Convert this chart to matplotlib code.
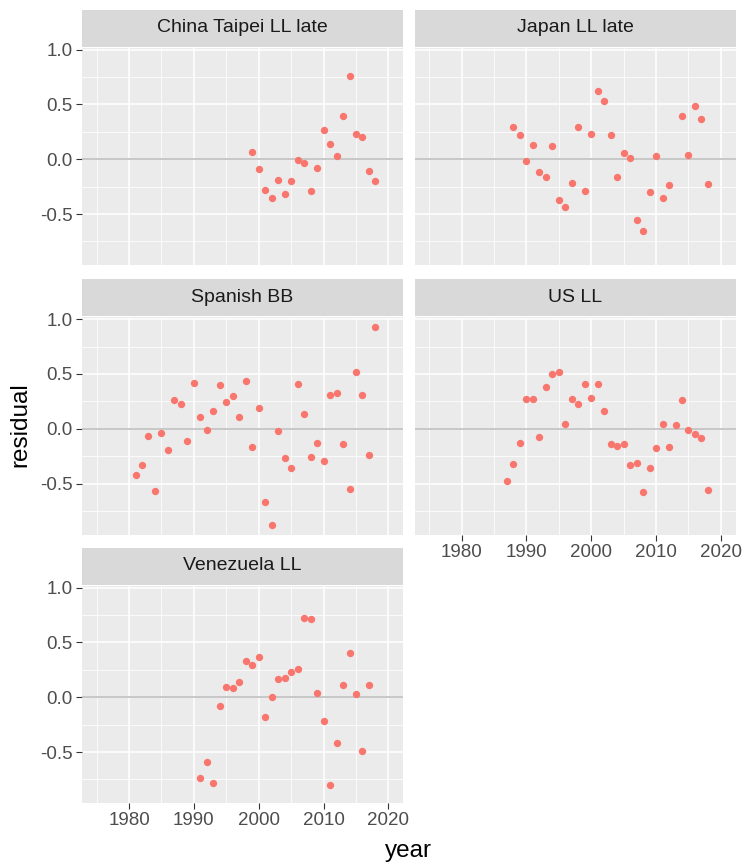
import numpy as np
import matplotlib
matplotlib.use("Agg")
import matplotlib.pyplot as plt

plt.rcParams['font.family'] = ['Liberation Sans', 'DejaVu Sans']
plt.rcParams['axes.unicode_minus'] = False

# residuals, one pair of lists per fleet
taipei_years = list(range(1999, 2019))
taipei_resid = [0.07, -0.09, -0.28, -0.355, -0.185, -0.315, -0.20, -0.01, -0.03, -0.29,
                -0.08, 0.27, 0.14, 0.03, 0.39, 0.76, 0.23, 0.20, -0.105, -0.20]

japan_years = list(range(1988, 2013)) + [2014, 2015, 2016, 2017, 2018]
japan_resid = [0.29, 0.22, -0.015, 0.13, -0.12, -0.16, 0.12, -0.375, -0.44, -0.22,
               0.29, -0.29, 0.23, 0.62, 0.53, 0.225, -0.16, 0.06, 0.015, -0.555,
               -0.655, -0.295, 0.03, -0.355, -0.235, 0.395, 0.04, 0.485, 0.37, -0.225]

spain_years = list(range(1981, 2019))
spain_resid = [-0.425, -0.335, -0.065, -0.57, -0.035, -0.19, 0.26, 0.225, -0.11, 0.42,
               0.11, -0.015, 0.16, 0.40, 0.245, 0.295, 0.11, 0.44, -0.17, 0.19,
               -0.67, -0.875, -0.025, -0.265, -0.355, 0.405, 0.13, -0.26, -0.13, -0.29,
               0.31, 0.325, -0.135, -0.55, 0.52, 0.305, -0.24, 0.925]

us_years = list(range(1987, 2019))
us_resid = [-0.48, -0.32, -0.13, 0.275, 0.275, -0.075, 0.385, 0.495, 0.52, 0.045,
            0.27, 0.23, 0.405, 0.285, 0.405, 0.16, -0.135, -0.155, -0.135, -0.335,
            -0.315, -0.575, -0.355, -0.175, 0.04, -0.165, 0.035, 0.265, -0.01, -0.05,
            -0.08, -0.56]

venez_years = list(range(1991, 2018))
venez_resid = [-0.735, -0.595, -0.785, -0.08, 0.095, 0.08, 0.14, 0.335, 0.29, 0.37,
               -0.18, 0.005, 0.17, 0.175, 0.23, 0.26, 0.725, 0.71, 0.04, -0.215,
               -0.80, -0.415, 0.11, 0.40, 0.03, -0.49, 0.11]

fleets = ["China Taipei LL late", "Japan LL late", "Spanish BB", "US LL", "Venezuela LL"]
years = [taipei_years, japan_years, spain_years, us_years, venez_years]
resids = [taipei_resid, japan_resid, spain_resid, us_resid, venez_resid]

W, H = 745, 864
col_left = [82, 414.5]
row_top = [48, 317.5, 586]
pw, ph = 321, 217
strip_h = 37

def box(left, top, width, height):
    return [left / W, 1 - (top + height) / H, width / W, height / H]

allv = np.concatenate([np.array(r) for r in resids])
span = allv.max() - allv.min()
ylim = (allv.min() - 0.05 * span, allv.max() + 0.05 * span)
xlim = (1972.75, 2022.25)

fig = plt.figure(figsize=(W / 100, H / 100), dpi=100)

for i, name in enumerate(fleets):
    r, c = divmod(i, 2)
    ax = fig.add_axes(box(col_left[c], row_top[r], pw, ph))
    ax.set_facecolor('#EBEBEB')
    for s in ax.spines.values():
        s.set_visible(False)
    ax.set_xlim(xlim)
    ax.set_ylim(ylim)
    ax.set_xticks([1980, 1990, 2000, 2010, 2020])
    ax.set_xticks([1975, 1985, 1995, 2005, 2015], minor=True)
    ax.set_yticks([-0.5, 0.0, 0.5, 1.0])
    ax.set_yticks([-0.75, -0.25, 0.25, 0.75], minor=True)
    ax.grid(which='major', color='white', lw=1.1)
    ax.grid(which='minor', color='white', lw=0.55)
    ax.set_axisbelow(True)
    ax.axhline(0, color='#BEBEBE', lw=1.2, zorder=1.5)
    ax.scatter(years[i], resids[i], s=28, color='#F8766D', linewidths=0, zorder=3)

    ax.tick_params(which='minor', length=0)
    ax.tick_params(which='major', length=4, width=0.8, color='#333333',
                   labelsize=13.5, labelcolor='#4D4D4D', pad=2.5)
    ax.yaxis.set_major_formatter(matplotlib.ticker.FormatStrFormatter('%.1f'))
    if c == 1:
        ax.tick_params(axis='y', left=False, labelleft=False)
    bottom = (r == 2) or (r == 1 and c == 1)
    if not bottom:
        ax.tick_params(axis='x', bottom=False, labelbottom=False)

    sax = fig.add_axes(box(col_left[c], row_top[r] - strip_h - 1.5, pw, strip_h))
    sax.set_facecolor('#D9D9D9')
    sax.set_xticks([])
    sax.set_yticks([])
    for s in sax.spines.values():
        s.set_visible(False)
    sax.text(0.5, 0.5, name, ha='center', va='center', fontsize=14,
             color='#1A1A1A', transform=sax.transAxes)

fig.text(408.5 / W, 1 - 851 / H, 'year', ha='center', va='center', fontsize=17.5)
fig.text(20 / W, 1 - 425 / H, 'residual', ha='center', va='center', fontsize=17.5,
         rotation=90)

fig.savefig('out.png', dpi=100)
